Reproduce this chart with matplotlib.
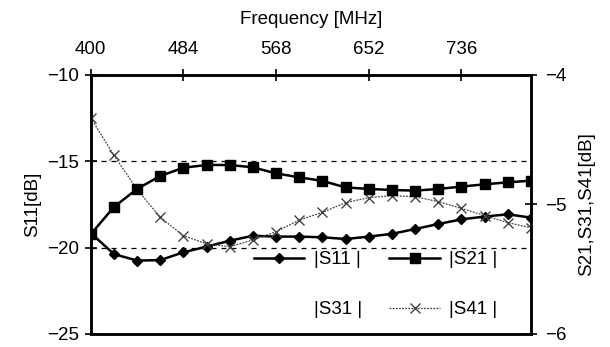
import numpy as np
import matplotlib
matplotlib.use('Agg')
import matplotlib.pyplot as plt
from matplotlib.lines import Line2D

plt.rcParams['font.family'] = ['Liberation Sans', 'DejaVu Sans']

# data: 20 points, 21 MHz apart
freq = [400 + 21 * i for i in range(20)]
s11 = [-19.15, -20.37, -20.75, -20.72, -20.27, -19.94, -19.6, -19.31, -19.36, -19.36,
       -19.4, -19.5, -19.36, -19.2, -18.92, -18.63, -18.36, -18.2, -18.07, -18.26]
s21 = [-5.23, -5.02, -4.88, -4.78, -4.716, -4.695, -4.695, -4.713, -4.76, -4.79,
       -4.818, -4.868, -4.88, -4.888, -4.893, -4.88, -4.862, -4.844, -4.829, -4.816]
s41 = [-4.33, -4.62, -4.883, -5.10, -5.24, -5.305, -5.326, -5.274, -5.21, -5.12,
       -5.06, -4.986, -4.947, -4.932, -4.94, -4.978, -5.03, -5.086, -5.14, -5.18]
xticks = [400, 484, 568, 652, 736]
yticks_left = [-25, -20, -15, -10]
yticks_right = [-6, -5, -4]

fs = 13.5

fig = plt.figure(figsize=(6.1, 3.47), dpi=100)
ax = fig.add_axes([0.1487, 0.0375, 0.7218, 0.7464])
ax2 = ax.twinx()

# dashed reference lines
for g in [-15, -20]:
    ax.axhline(g, color='black', lw=0.9, ls=(0, (4, 4)), zorder=1)

l11, = ax.plot(freq, s11, color='black', lw=1.8, marker='D', ms=5.5, zorder=3)
l21, = ax2.plot(freq, s21, color='black', lw=1.8, marker='s', ms=7, zorder=3)
l41, = ax2.plot(freq, s41, color='#444444', lw=0.9, ls=(0, (1.5, 1)), marker='x',
                ms=7, mew=1.0, zorder=2)
l31 = Line2D([], [], color='none')

ax.set_xlim(400, 799)
ax.set_ylim(-25, -10)
ax2.set_ylim(-6, -4)

ax.xaxis.tick_top()
ax.xaxis.set_label_position('top')
ax.set_xticks(xticks)
ax.set_yticks(yticks_left)
ax2.set_yticks(yticks_right)

ax.set_xlabel('Frequency [MHz]', fontsize=fs, labelpad=12)
ax.set_ylabel('S11[dB]', fontsize=fs, labelpad=4)
ax2.set_ylabel('S21,S31,S41[dB]', fontsize=fs, labelpad=8)

for a in (ax, ax2):
    for s in a.spines.values():
        s.set_linewidth(1.8)
    a.tick_params(direction='inout', length=9, width=1.2, labelsize=fs)
ax.tick_params(axis='x', pad=8)
ax.tick_params(axis='y', pad=4)
ax2.tick_params(axis='y', pad=6)

ax2.legend([l11, l31, l21, l41], ['|S11 |', '|S31 |', '|S21 |', '|S41 |'],
           ncol=2, frameon=False, fontsize=fs, loc='lower left',
           bbox_to_anchor=(0.35, 0.025), borderpad=0, handlelength=2.67,
           handletextpad=0.53, columnspacing=1.45, labelspacing=1.75)

fig.savefig('out.png', dpi=100)
